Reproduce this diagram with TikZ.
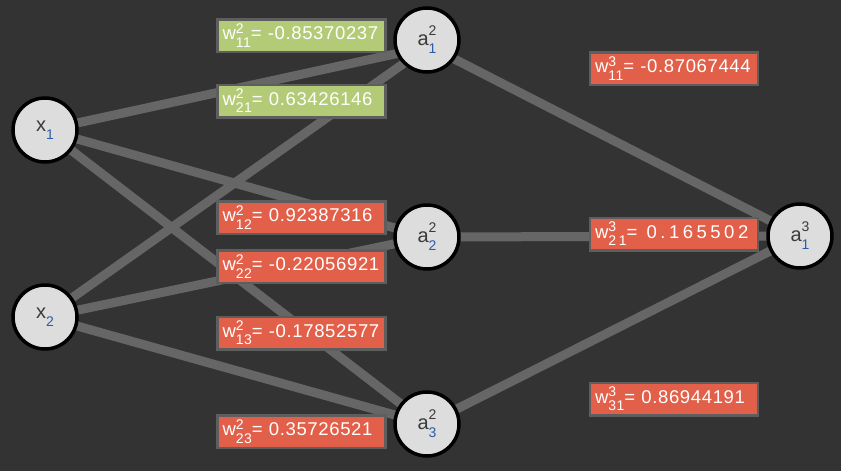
\documentclass[tikz,border=0pt]{standalone}
\usepackage{fontspec}
\setmainfont{Liberation Sans}
\usetikzlibrary{calc}
\definecolor{bg}{HTML}{333333}
\definecolor{edgegray}{HTML}{666666}
\definecolor{nodefill}{HTML}{DDDDDD}
\definecolor{redbox}{HTML}{E2604A}
\definecolor{greenbox}{HTML}{B3CB77}
\definecolor{boxline}{HTML}{5E5E5E}
\definecolor{subblue}{HTML}{2A5CA8}
\definecolor{ntext}{HTML}{3A3A3A}
\newcommand{\scrN}{\fontsize{14}{14}\selectfont}
\newcommand{\scrL}{\fontsize{14}{14}\selectfont}
\newcommand{\wlab}[3]{w\makebox[0pt][l]{\raisebox{6.5pt}{\scrL #1}}\raisebox{-7.5pt}{\scrL #2}= #3}
\newcommand{\neur}[3]{#1\makebox[0pt][l]{\raisebox{10pt}{\scrN #2}}\raisebox{-8pt}{\scrN\color{subblue}#3}}
\newcommand{\inp}[2]{#1\raisebox{-8pt}{\scrN\color{subblue}#2}}
\pgfdeclarelayer{bglayer}
\pgfdeclarelayer{edgelayer}
\pgfsetlayers{bglayer,edgelayer,main}
\begin{document}
\begin{tikzpicture}[x=1pt,y=-1pt,
  neuron/.style={circle, draw=black, line width=3.5pt, fill=nodefill,
    minimum size=64pt, inner sep=0pt, text=ntext,
    font=\fontsize{20}{20}\selectfont},
  conn/.style={draw=edgegray, line width=9pt},
  wbox/.style={draw=boxline, line width=2.5pt, text width=158pt, align=left,
    inner xsep=5pt, inner ysep=0pt, minimum height=32.5pt, text=white,
    font=\fontsize{18.5}{20}\selectfont\addfontfeature{LetterSpace=3.5}},
  redw/.style={wbox, fill=redbox},
  greenw/.style={wbox, fill=greenbox}]
\begin{pgfonlayer}{bglayer}
\fill[bg] (0,0) rectangle (841,471);
\end{pgfonlayer}
\useasboundingbox (0,0) rectangle (841,471);

% neurons
\node[neuron] (x1) at (45,130) {\inp{x}{1}};
\node[neuron] (x2) at (45,317) {\inp{x}{2}};
\node[neuron] (a21) at (427,40) {\neur{a}{2}{1}};
\node[neuron] (a22) at (427,237) {\neur{a}{2}{2}};
\node[neuron] (a23) at (427,424) {\neur{a}{2}{3}};
\node[neuron] (a31) at (800,236) {\neur{a}{3}{1}};

% connectors
\begin{pgfonlayer}{edgelayer}
\draw[conn] (x1.center) -- ($(a21.center)+(0,7)$);
\draw[conn] (x1.center) -- (a22.center);
\draw[conn] (x1.center) -- (a23.center);
\draw[conn] (x2.center) -- ($(a21.center)+(0,7)$);
\draw[conn] (x2.center) -- (a22.center);
\draw[conn] (x2.center) -- (a23.center);
\draw[conn] ($(a21.center)+(0,5)$) -- (a31.center);
\draw[conn] (a22.center) -- (a31.center);
\draw[conn] (a23.center) -- (a31.center);
\end{pgfonlayer}

% weight labels
\node[greenw] (w11b) at (301.5,35.5) {\wlab{2}{11}{-0.85370237}};
\node[greenw] (w21b) at (301.5,101) {\wlab{2}{21}{0.63426146}};
\node[redw] (w12b) at (301.5,217.5) {\wlab{2}{12}{0.92387316}};
\node[redw] (w22b) at (301.5,266.5) {\wlab{2}{22}{-0.22056921}};
\node[redw] (w13b) at (301.5,333) {\wlab{2}{13}{-0.17852577}};
\node[redw] (w23b) at (301.5,431.5) {\wlab{2}{23}{0.35726521}};
\node[redw] (w11c) at (674,68.5) {\wlab{3}{11}{-0.87067444}};
\node[redw, font=\fontsize{18.5}{20}\selectfont\addfontfeature{LetterSpace=19}] (w21c) at (674,234) {\wlab{3}{21}{\hspace{3pt}0.165502}};
\node[redw] (w31c) at (674,399) {\wlab{3}{31}{0.86944191}};
\end{tikzpicture}
\end{document}
